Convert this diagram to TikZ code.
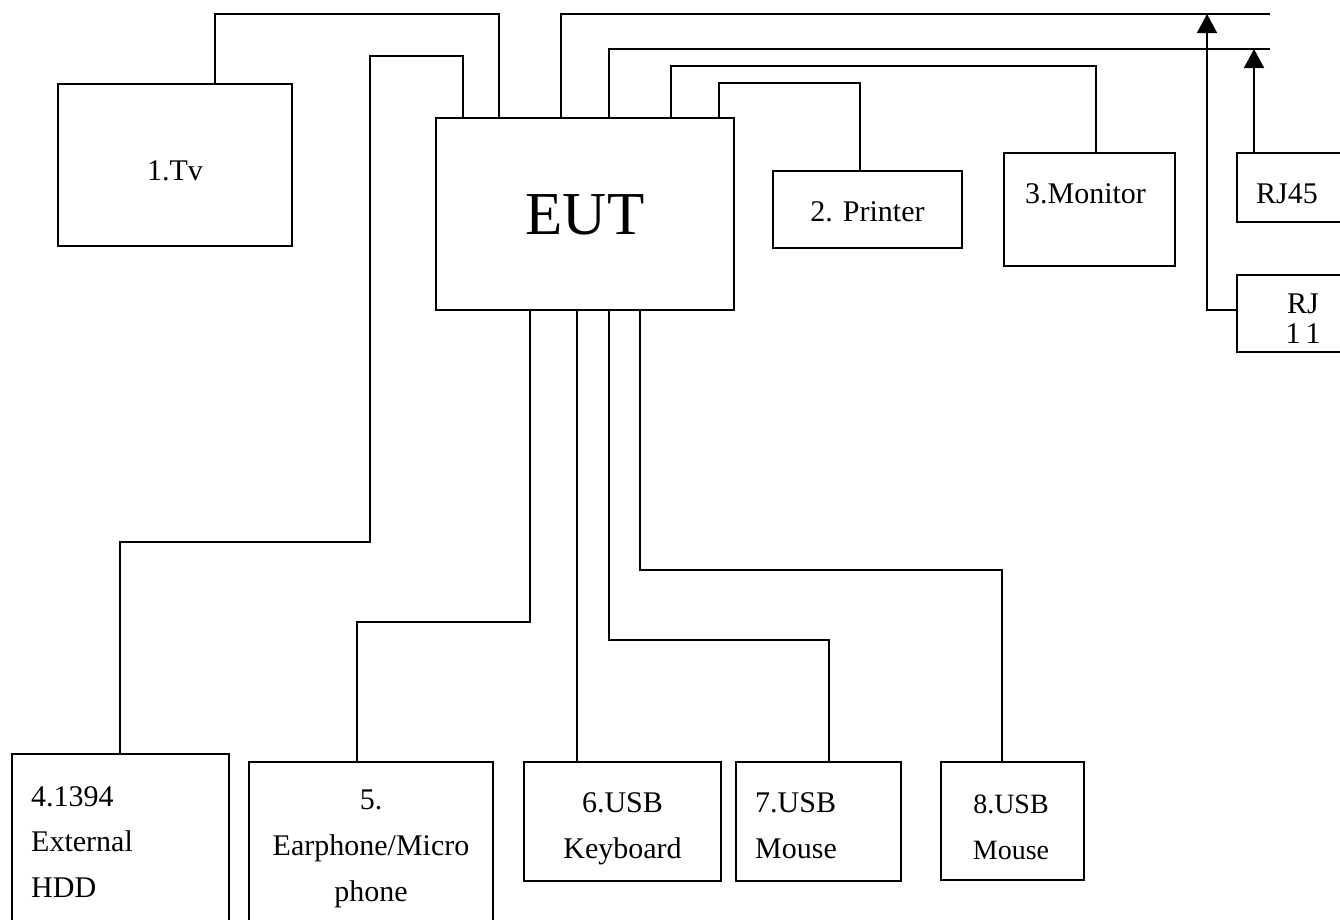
\documentclass[tikz,border=0pt]{standalone}
\usepackage{fontspec}
\setmainfont{Liberation Serif}
\usetikzlibrary{arrows.meta}
\begin{document}
\begin{tikzpicture}[x=1pt,y=-1pt,
  box/.style={draw=black,line width=1.6pt,rectangle,inner sep=0pt},
  wire/.style={draw=black,line width=1.6pt},
  tipline/.style={wire,-{Triangle[width=20pt,length=19pt]}},
  lbl/.style={inner sep=0pt,font=\fontsize{30}{30}\selectfont},
  lblsmall/.style={inner sep=0pt,font=\fontsize{28}{28}\selectfont},
  lblbig/.style={inner sep=0pt,font=\fontsize{61}{61}\selectfont}]
\useasboundingbox (0,0) rectangle (1340,919);
\clip (0,0) rectangle (1340,919);
% boxes
\node[box,minimum width=234pt,minimum height=162pt] (tv) at (175,165) {};
\node[box,minimum width=298pt,minimum height=192pt] (eut) at (585,214) {};
\node[box,minimum width=189pt,minimum height=77pt] (printer) at (867.5,209.5) {};
\node[box,minimum width=171pt,minimum height=113pt] (monitor) at (1089.5,209.5) {};
\node[box,minimum width=113pt,minimum height=69pt] (rjff) at (1293.5,187.5) {};
\node[box,minimum width=113pt,minimum height=77pt] (rjee) at (1293.5,313.5) {};
\node[box,minimum width=217pt,minimum height=181pt] (hdd) at (120.5,844.5) {};
\node[box,minimum width=244pt,minimum height=173pt] (ear) at (371,848.5) {};
\node[box,minimum width=197pt,minimum height=119pt] (kbd) at (622.5,821.5) {};
\node[box,minimum width=165pt,minimum height=119pt] (mouseA) at (818.5,821.5) {};
\node[box,minimum width=143pt,minimum height=118pt] (mouseB) at (1012.5,821) {};
% texts
\node[lbl,anchor=base] (tvT) at (175,180) {1.Tv};
\node[lblbig,anchor=base] (eutT) at (585,234) {EUT};
\node[lbl,anchor=base] (printerT) at (867.5,221) {2. Printer};
\node[lbl,anchor=base] (monitorT) at (1085.5,203) {3.Monitor};
\node[lbl,anchor=base west] (rjffT) at (1256,203) {RJ45};
\node[lbl,anchor=base] (rjeeT1) at (1303,313) {RJ};
\node[lbl,anchor=base] (rjeeT2) at (1303,343) {1\,1};
\node[lbl,anchor=base west] (hddT1) at (31,806) {4.1394};
\node[lbl,anchor=base west] (hddT2) at (31,851) {External};
\node[lbl,anchor=base west] (hddT3) at (31,897) {HDD};
\node[lbl,anchor=base] (earT1) at (371,809) {5.};
\node[lbl,anchor=base] (earT2) at (371,855) {Earphone/Micro};
\node[lbl,anchor=base] (earT3) at (371,901) {phone};
\node[lbl,anchor=base] (kbdT1) at (622.5,812) {6.USB};
\node[lbl,anchor=base] (kbdT2) at (622.5,858) {Keyboard};
\node[lbl,anchor=base west] (mouseAT1) at (755,812) {7.USB};
\node[lbl,anchor=base west] (mouseAT2) at (755,858) {Mouse};
\node[lblsmall,anchor=base] (mouseBT1) at (1011,813) {8.USB};
\node[lblsmall,anchor=base] (mouseBT2) at (1011,859) {Mouse};
% free ends
\coordinate (endA) at (1270,14);
\coordinate (endB) at (1270,49);
\coordinate (tipA) at (1207,14);
\coordinate (tipB) at (1254,49);
% connectors
\draw[wire] (tv.north -| 215,0) |- (499,14) -- (eut.north -| 499,0);
\draw[wire] (eut.north -| 463,0) |- (370,56) |- (120,542) -- (hdd.north -| 120,0);
\draw[wire] (eut.north -| 561,0) |- (endA);
\draw[wire] (eut.north -| 609,0) |- (endB);
\draw[wire] (eut.north -| 671,0) |- (1096,66) -- (monitor.north -| 1096,0);
\draw[wire] (eut.north -| 719,0) |- (860,83) -- (printer.north -| 860,0);
\draw[tipline] (rjee.west |- 0,310) -| (tipA);
\draw[tipline] (rjff.north -| tipB) -- (tipB);
\draw[wire] (eut.south -| 530,0) |- (357,622) -- (ear.north -| 357,0);
\draw[wire] (eut.south -| 577,0) -- (kbd.north -| 577,0);
\draw[wire] (eut.south -| 609,0) |- (829,640) -- (mouseA.north -| 829,0);
\draw[wire] (eut.south -| 640,0) |- (1002,570) -- (mouseB.north -| 1002,0);
\end{tikzpicture}
\end{document}
